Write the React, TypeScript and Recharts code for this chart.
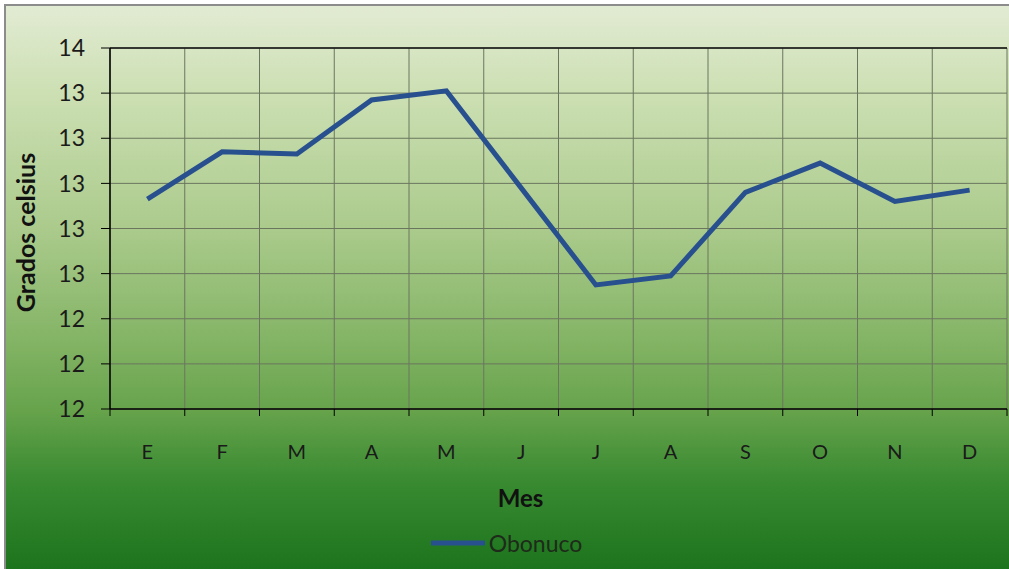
import React from "react";
import {
  LineChart,
  Line,
  XAxis,
  YAxis,
  CartesianGrid,
  Legend,
  ReferenceLine,
} from "recharts";

const months = ["E", "F", "M", "A", "M", "J", "J", "A", "S", "O", "N", "D"];
const obonuco = [12.93, 13.14, 13.13, 13.37, 13.41, 12.98, 12.55, 12.59, 12.96, 13.09, 12.92, 12.97];
const yTicks = [12.0, 12.2, 12.4, 12.6, 12.8, 13.0, 13.2, 13.4, 13.6];
const monthIdx = months.map((_, i) => i);

const data = months.map((m, i) => ({ idx: i, mes: m, Obonuco: obonuco[i] }));

const FONT = "Lato, 'Open Sans', sans-serif";
const LINE = "#28508f";
const GRID = "#6b765f";

// month label centred in its slot, small tick mark on the slot's left edge
// (and on the right edge for the last one)
function MonthTick(props: any) {
  const { x, y, payload, index, width } = props;
  const half = width / months.length / 2;
  const axisY = y - 30 - 6;
  return (
    <g>
      <line x1={x - half} y1={axisY} x2={x - half} y2={axisY + 7} stroke="#000" />
      {index === months.length - 1 && (
        <line x1={x + half} y1={axisY} x2={x + half} y2={axisY + 7} stroke="#000" />
      )}
      <text
        x={x}
        y={y}
        dy="0.71em"
        textAnchor="middle"
        fontSize={20}
        fill="#1a1a1a"
        fontFamily={FONT}
      >
        {months[payload.value]}
      </text>
    </g>
  );
}

function LegendContent() {
  return (
    <div
      style={{
        display: "flex",
        justifyContent: "center",
        alignItems: "center",
        height: 26,
        fontSize: 23,
        fontFamily: FONT,
        color: "#1e2a1a",
      }}
    >
      <svg width={54} height={6} style={{ marginRight: 4 }}>
        <line x1={0} y1={3} x2={54} y2={3} stroke={LINE} strokeWidth={5} />
      </svg>
      <span>Obonuco</span>
    </div>
  );
}

export default function App() {
  return (
    <div
      style={{
        position: "absolute",
        left: 0,
        top: 0,
        width: 1009,
        height: 569,
        background: "#ffffff",
        fontFamily: FONT,
      }}
    >
      <div
        style={{
          position: "absolute",
          left: 4,
          top: 4,
          width: 1005,
          height: 565,
          borderLeft: "2px solid #8c8c8c",
          borderTop: "2px solid #8c8c8c",
          boxSizing: "border-box",
          background:
            "linear-gradient(to bottom, #e2ebd3 0%, #cde0b4 15%, #aaca8b 40%, #82b364 60%, #66a34b 72%, #3a8b32 84%, #1c741c 100%)",
        }}
      />
      <LineChart
        width={1009}
        height={569}
        data={data}
        margin={{ top: 48, right: 2, bottom: 13, left: 6 }}
        style={{ position: "absolute", left: 0, top: 0 }}
      >
        <CartesianGrid
          stroke={GRID}
          strokeWidth={1}
          verticalCoordinatesGenerator={({ offset }: any) =>
            months
              .map((_, i) => offset.left + (i * offset.width) / months.length)
              .concat(offset.left + offset.width)
          }
        />
        <XAxis
          dataKey="idx"
          type="number"
          domain={[-0.5, months.length - 0.5]}
          ticks={monthIdx}
          interval={0}
          tickLine={false}
          tickSize={6}
          tickMargin={30}
          axisLine={{ stroke: "#000", strokeWidth: 1.5 }}
          tick={<MonthTick />}
          height={121}
          label={{
            value: "Mes",
            position: "insideBottom",
            offset: 23,
            dx: -38,
            fontSize: 24,
            fontWeight: 700,
            fill: "#111",
            fontFamily: FONT,
          }}
        />
        <YAxis
          domain={[12, 13.6]}
          ticks={yTicks}
          tickFormatter={(v: number) => String(Math.round(v))}
          tick={{ fontSize: 23, fill: "#1a1a1a", fontFamily: FONT }}
          tickSize={9}
          tickMargin={16}
          tickLine={{ stroke: "#000" }}
          axisLine={{ stroke: "#000", strokeWidth: 1.5 }}
          width={104}
          label={{
            value: "Grados celsius",
            angle: -90,
            position: "insideLeft",
            offset: 20,
            dy: 4,
            style: { textAnchor: "middle" },
            fontSize: 25,
            fontWeight: 700,
            fill: "#111",
            fontFamily: FONT,
          }}
        />
        <ReferenceLine y={13.6} stroke="#111" strokeWidth={1.5} />
        <Legend verticalAlign="bottom" align="center" content={<LegendContent />} />
        <Line
          type="linear"
          dataKey="Obonuco"
          stroke={LINE}
          strokeWidth={5}
          dot={false}
          activeDot={false}
          isAnimationActive={false}
        />
      </LineChart>
    </div>
  );
}
